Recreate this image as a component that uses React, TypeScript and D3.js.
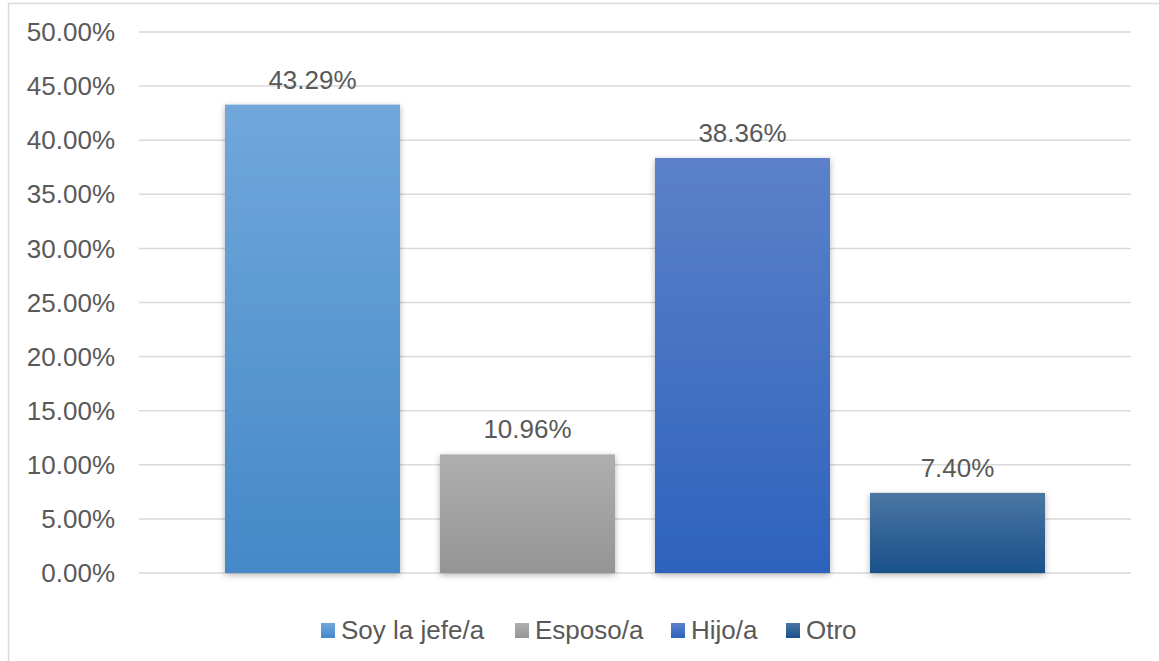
import React from "react";
import * as d3 from "d3";

const categories = ["Soy la jefe/a", "Esposo/a", "Hijo/a", "Otro"];
const values = [43.29, 10.96, 38.36, 7.4];
const yTicks = [0, 5, 10, 15, 20, 25, 30, 35, 40, 45, 50];
const gradTop = ["#71A7DB", "#AEAEAE", "#5B81C9", "#4A76A3"];
const gradBottom = ["#4489C8", "#959595", "#2E62BC", "#195189"];

const W = 1159;
const H = 661;
const font = "'Liberation Sans', Arial, sans-serif";
const textColor = "#595959";

export default function App() {
  const y = d3.scaleLinear().domain([0, 50]).range([573, 32]);
  const x = d3
    .scaleBand<string>()
    .domain(categories)
    .range([205, 1065])
    .paddingInner(40 / 215)
    .paddingOuter(20 / 215);

  // legend layout
  const legendX = [321, 515, 671, 786];
  const legendY = 630;

  return (
    <svg
      width={W}
      height={H}
      style={{ position: "absolute", left: 0, top: 0, display: "block" }}
    >
      <defs>
        {categories.map((c, i) => (
          <linearGradient key={c} id={`g${i}`} x1="0" y1="0" x2="0" y2="1">
            <stop offset="0%" stopColor={gradTop[i]} />
            <stop offset="100%" stopColor={gradBottom[i]} />
          </linearGradient>
        ))}
        <filter id="shadow" x="-10%" y="-10%" width="120%" height="120%">
          <feDropShadow dx="0" dy="2" stdDeviation="3" floodColor="#000" floodOpacity="0.3" />
        </filter>
      </defs>
      <rect x={0} y={0} width={W} height={H} fill="#fff" />
      <rect x={8.5} y={3.5} width={W + 10} height={H + 10} fill="none" stroke="#D9D9D9" strokeWidth={1.5} />

      {yTicks.map((t) => (
        <g key={t}>
          <line x1={139} x2={1131} y1={y(t)} y2={y(t)} stroke="#D9D9D9" strokeWidth={1.5} />
          <text
            x={115}
            y={y(t)}
            dy="0.35em"
            textAnchor="end"
            fontFamily={font}
            fontSize={26}
            fill={textColor}
          >
            {t.toFixed(2)}%
          </text>
        </g>
      ))}

      {categories.map((c, i) => (
        <g key={c}>
          <rect
            x={x(c)}
            y={y(values[i])}
            width={x.bandwidth()}
            height={y(0) - y(values[i])}
            fill={`url(#g${i})`}
            filter="url(#shadow)"
          />
          <text
            x={(x(c) as number) + x.bandwidth() / 2}
            y={y(values[i]) - 16}
            textAnchor="middle"
            fontFamily={font}
            fontSize={26}
            fill={textColor}
          >
            {values[i].toFixed(2)}%
          </text>
        </g>
      ))}

      {categories.map((c, i) => (
        <g key={"l" + c}>
          <rect x={legendX[i]} y={legendY - 7} width={14} height={15} fill={`url(#g${i})`} />
          <text
            x={legendX[i] + 20}
            y={legendY}
            dy="0.35em"
            fontFamily={font}
            fontSize={26}
            fill={textColor}
          >
            {c}
          </text>
        </g>
      ))}
    </svg>
  );
}
